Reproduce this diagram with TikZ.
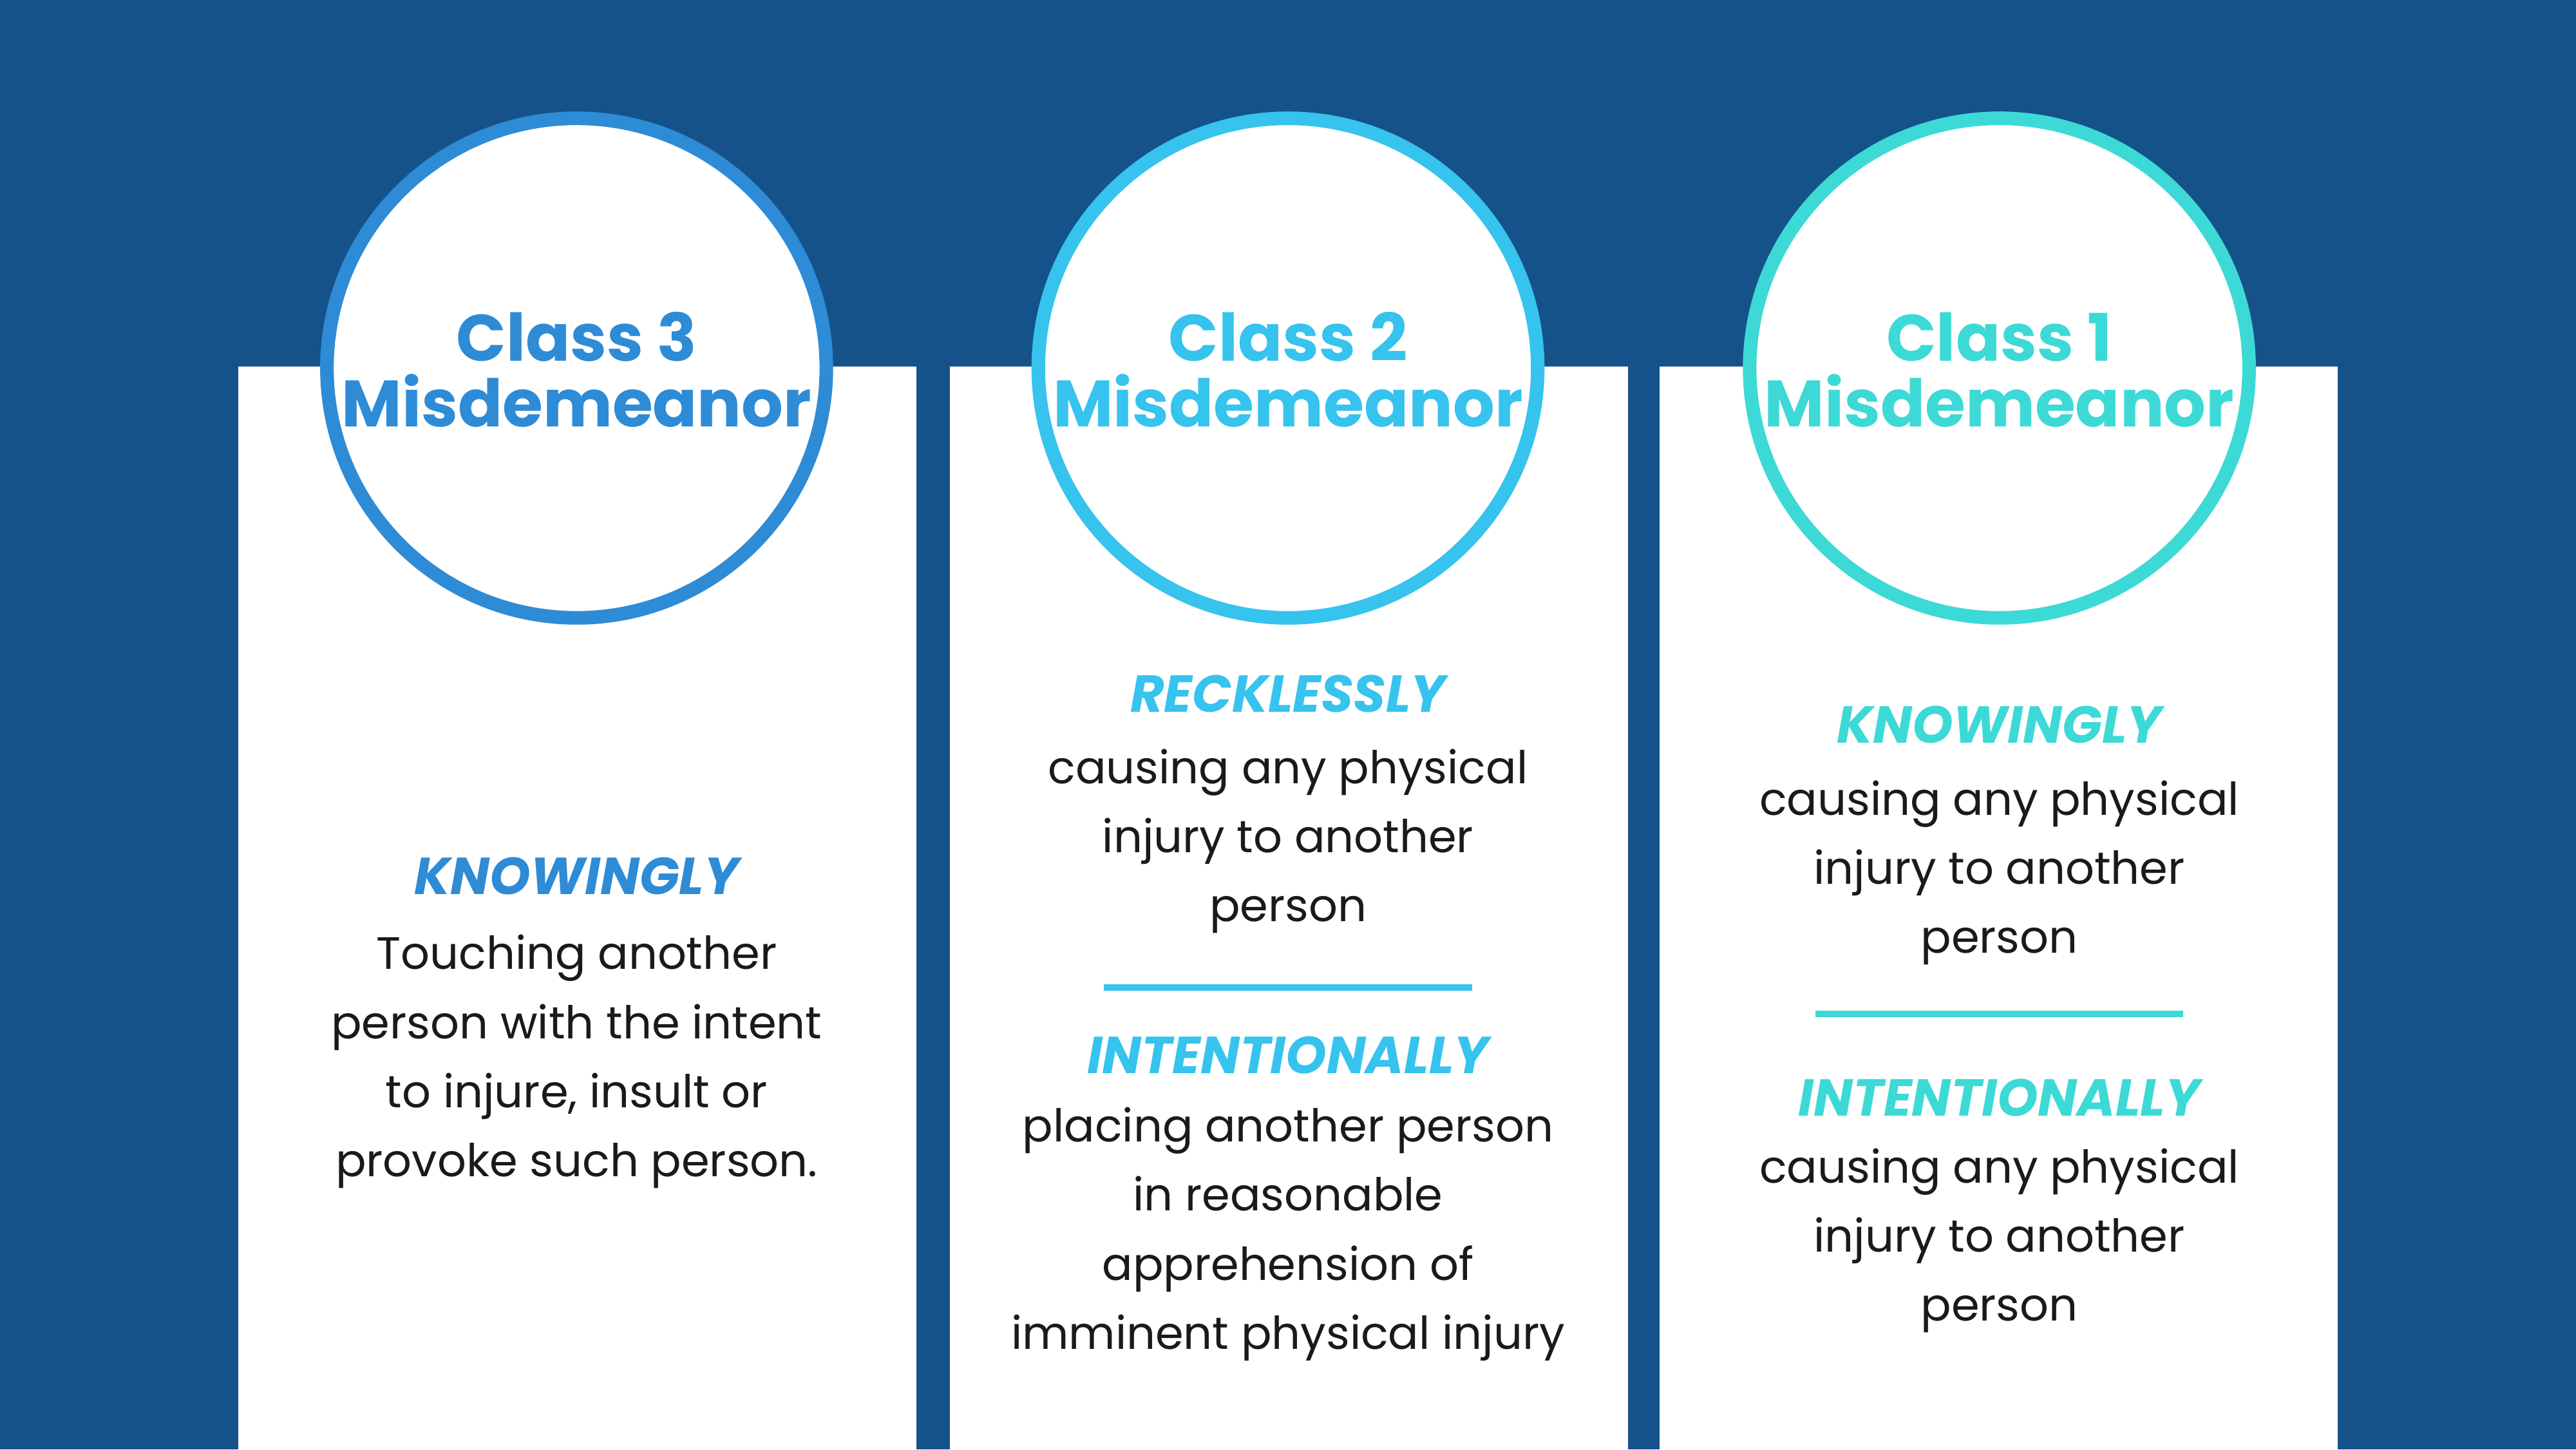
\documentclass[tikz,border=0pt]{standalone}
\usepackage{fontspec}
\setmainfont{Poppins}
\usetikzlibrary{positioning}
\definecolor{navy}{HTML}{16528A}
\definecolor{blueA}{HTML}{2E8BD6}
\definecolor{blueB}{HTML}{36C3EE}
\definecolor{blueC}{HTML}{3DD9D6}
\definecolor{ink}{HTML}{1A1A1A}
\begin{document}
\begin{tikzpicture}[x=0.02551cm, y=-0.02551cm,
    % styles for the three columns
    panel/.style={fill=white, draw=none},
    badge/.style={circle, draw=#1, line width=9pt, fill=white, minimum size=302\pgflinewidth/9*0.02551cm/1pt},
    title/.style={text=#1, font=\fontsize{29}{32}\selectfont\bfseries, align=center},
    manner/.style={text=#1, font=\fontsize{23}{26}\selectfont\bfseries\itshape, align=center},
    body/.style={text=ink, font=\fontsize{20}{30.5}\selectfont, align=center},
    divider/.style={draw=#1, line width=3pt}
]
\useasboundingbox (0,0) rectangle (1568,882);
\fill[navy] (0,0) rectangle (1568,882);

% white panels
\fill[panel] (145,223) rectangle (558,882);
\fill[panel] (578,223) rectangle (991,882);
\fill[panel] (1010,223) rectangle (1423,882);

% circle badges
\draw[blueA, line width=6pt, fill=white] (351,224) circle (152);
\draw[blueB, line width=6pt, fill=white] (784,224) circle (152);
\draw[blueC, line width=6pt, fill=white] (1217,224) circle (152);

\node[title=blueA] (ClassThree) at (351,225) {Class 3\\[-3pt]Misdemeanor};
\node[title=blueB] (ClassTwo) at (784,225) {Class 2\\[-3pt]Misdemeanor};
\node[title=blueC] (ClassOne) at (1217,225) {Class 1\\[-3pt]Misdemeanor};

% column 3
\node[manner=blueA] (KnowThree) at (351,533) {KNOWINGLY};
\node[body] (TextThree) at (351,646) {Touching another\\person with the intent\\to injure, insult or\\provoke such person.};

% column 2
\node[manner=blueB] (RecklTwo) at (784,422) {RECKLESSLY};
\node[body] (TextTwoA) at (784,512) {causing any physical\\injury to another\\person};
\coordinate (LineTwoL) at (672,601);
\coordinate (LineTwoR) at (896,601);
\draw[divider=blueB] (LineTwoL) -- (LineTwoR);
\node[manner=blueB] (IntentTwo) at (784,642) {INTENTIONALLY};
\node[body] (TextTwoB) at (784,751) {placing another person\\in reasonable\\apprehension of\\imminent physical injury};

% column 1
\node[manner=blueC] (KnowOne) at (1217,441) {KNOWINGLY};
\node[body] (TextOneA) at (1217,531) {causing any physical\\injury to another\\person};
\coordinate (LineOneL) at (1105,617);
\coordinate (LineOneR) at (1329,617);
\draw[divider=blueC] (LineOneL) -- (LineOneR);
\node[manner=blueC] (IntentOne) at (1217,668) {INTENTIONALLY};
\node[body] (TextOneB) at (1217,755) {causing any physical\\injury to another\\person};
\end{tikzpicture}
\end{document}
